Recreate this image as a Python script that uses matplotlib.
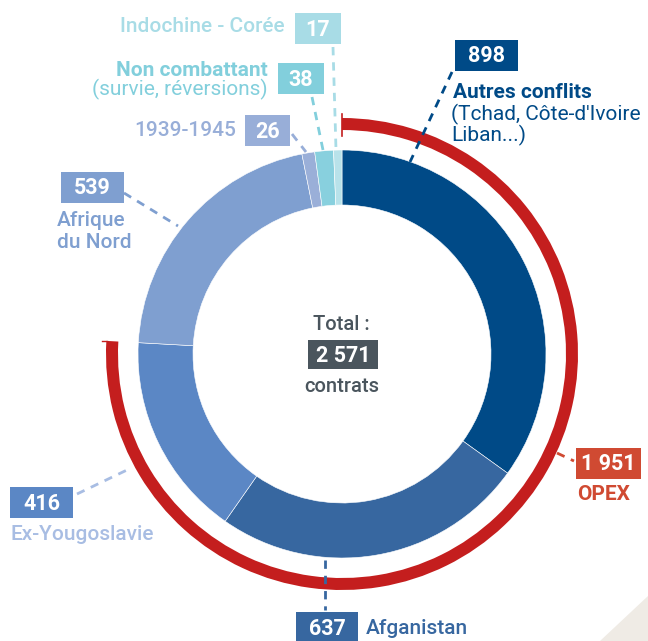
import matplotlib
matplotlib.use("Agg")
import matplotlib.pyplot as plt
from matplotlib.patches import Wedge, Rectangle, Polygon
import numpy as np

plt.rcParams['font.family'] = ['Roboto', 'DejaVu Sans']

# ---- data ----
categories = ["Autres conflits", "Afganistan", "Ex-Yougoslavie", "Afrique du Nord",
              "1939-1945", "Non combattant", "Indochine - Corée"]
values = [898, 637, 416, 539, 26, 38, 17]
opex_categories = ["Autres conflits", "Afganistan", "Ex-Yougoslavie"]
total = sum(values)
opex = sum(v for c, v in zip(categories, values) if c in opex_categories)

def fmt(n):
    return f"{n:,}".replace(",", " ")

# ---- styles ----
seg_colors = ["#004a87", "#3767a0", "#5b87c5", "#7f9fd0", "#9aafd8", "#88d0de", "#b8e2ea"]
box_colors = ["#004a87", "#3767a0", "#5b87c5", "#7f9fd0", "#98aed8", "#82cfdc", "#a8dce6"]
red = "#c41e1e"
opex_col = "#d04a32"
gray = "#4a555d"

W, H = 648, 641
fig = plt.figure(figsize=(W / 100, H / 100), dpi=100)
ax = fig.add_axes([0, 0, 1, 1])

cx, cy, R, ring = 342, 354, 204, 55

ax.pie(values, colors=seg_colors, radius=R, center=(cx, cy), startangle=270,
       counterclock=True, wedgeprops=dict(width=ring, edgecolor="white", linewidth=0.4))

ax.set_xlim(0, W)
ax.set_ylim(H, 0)
ax.set_aspect("equal")
ax.axis("off")

# OPEX red arc
opex_angle = 360 * opex / total
ax.add_patch(Wedge((cx, cy), 236, 270, 270 + opex_angle, width=12, facecolor=red,
                   edgecolor="none"))
ax.plot([cx, cx], [114, 136], color=red, lw=1.2)
a = np.deg2rad(270 + opex_angle)
ax.plot([cx + 218 * np.cos(a) - 22, cx + 240 * np.cos(a) + 5],
        [cy + 240 * np.sin(a), cy + 240 * np.sin(a)], color=red, lw=1.0)

# beige corner
ax.add_patch(Polygon([[600, 641], [648, 641], [648, 596]], closed=True,
                     facecolor="#efebe5", edgecolor="none"))

def box(x0, y0, w, h, color, txt, fs=15.5):
    ax.add_patch(Rectangle((x0, y0), w, h, facecolor=color, edgecolor="none", zorder=3))
    ax.text(x0 + w / 2, y0 + h / 2 + 1, txt, color="white", fontsize=fs, fontweight="bold",
            ha="center", va="center", zorder=4)

def leader(p0, p1, color):
    ax.plot([p0[0], p1[0]], [p0[1], p1[1]], color=color, lw=2, ls=(0, (3, 2.5)), zorder=2)

lab_fs = 15
wt = "medium"

# Autres conflits 898
box(455, 40, 63, 31, box_colors[0], fmt(values[0]))
leader((452, 72), (410, 162), box_colors[0])
ax.text(453, 93, "Autres conflits", color=box_colors[0], fontsize=lab_fs, fontweight="bold",
        ha="left", va="center")
ax.text(451, 114, "(Tchad, Côte-d'Ivoire", color=box_colors[0], fontsize=lab_fs,
        fontweight="normal", ha="left", va="center")
ax.text(451, 135, "Liban...)", color=box_colors[0], fontsize=lab_fs, fontweight="normal",
        ha="left", va="center")

# Afganistan 637
box(296, 612, 62, 32, box_colors[1], fmt(values[1]))
leader((325, 560), (325, 610), box_colors[1])
ax.text(366, 629, "Afganistan", color=box_colors[1], fontsize=lab_fs, fontweight=wt,
        ha="left", va="center")

# Ex-Yougoslavie 416
box(10, 487, 63, 31, box_colors[2], fmt(values[2]))
leader((77, 494), (127, 470), "#a8bde3")
ax.text(10, 535, "Ex-Yougoslavie", color="#a8bde3", fontsize=lab_fs, fontweight=wt,
        ha="left", va="center")

# Afrique du Nord 539
box(61, 172, 63, 31, box_colors[3], fmt(values[3]))
leader((124, 193), (178, 226), box_colors[3])
ax.text(57, 220, "Afrique", color=box_colors[3], fontsize=lab_fs, fontweight=wt,
        ha="left", va="center")
ax.text(57, 242, "du Nord", color=box_colors[3], fontsize=lab_fs, fontweight=wt,
        ha="left", va="center")

# 1939-1945 26
box(245, 115, 45, 31, box_colors[4], fmt(values[4]))
leader((292, 134), (306, 152), box_colors[4])
ax.text(236, 130, "1939-1945", color=box_colors[4], fontsize=lab_fs, fontweight=wt,
        ha="right", va="center")

# Non combattant 38
box(278, 63, 46, 31, box_colors[5], fmt(values[5]))
leader((312, 97), (323, 150), box_colors[5])
ax.text(268, 70, "Non combattant", color=box_colors[5], fontsize=lab_fs, fontweight="bold",
        ha="right", va="center")
ax.text(268, 89, "(survie, réversions)", color=box_colors[5], fontsize=lab_fs,
        fontweight="normal", ha="right", va="center")

# Indochine - Corée 17
box(295, 13, 46, 31, box_colors[6], fmt(values[6]))
leader((333, 47), (336, 150), box_colors[6])
ax.text(285, 27, "Indochine - Corée", color=box_colors[6], fontsize=lab_fs, fontweight=wt,
        ha="right", va="center")

# OPEX 1951
box(576, 448, 65, 31, opex_col, fmt(opex))
leader((557, 453), (574, 461), opex_col)
ax.text(577, 494, "OPEX", color=opex_col, fontsize=lab_fs, fontweight="bold",
        ha="left", va="center")

# Total
ax.text(341, 325, "Total :", color=gray, fontsize=14.5, fontweight=wt,
        ha="center", va="center")
box(308, 340, 70, 29, gray, fmt(total))
ax.text(342, 387, "contrats", color=gray, fontsize=14.5, fontweight=wt,
        ha="center", va="center")

fig.savefig("out.png", dpi=100)
